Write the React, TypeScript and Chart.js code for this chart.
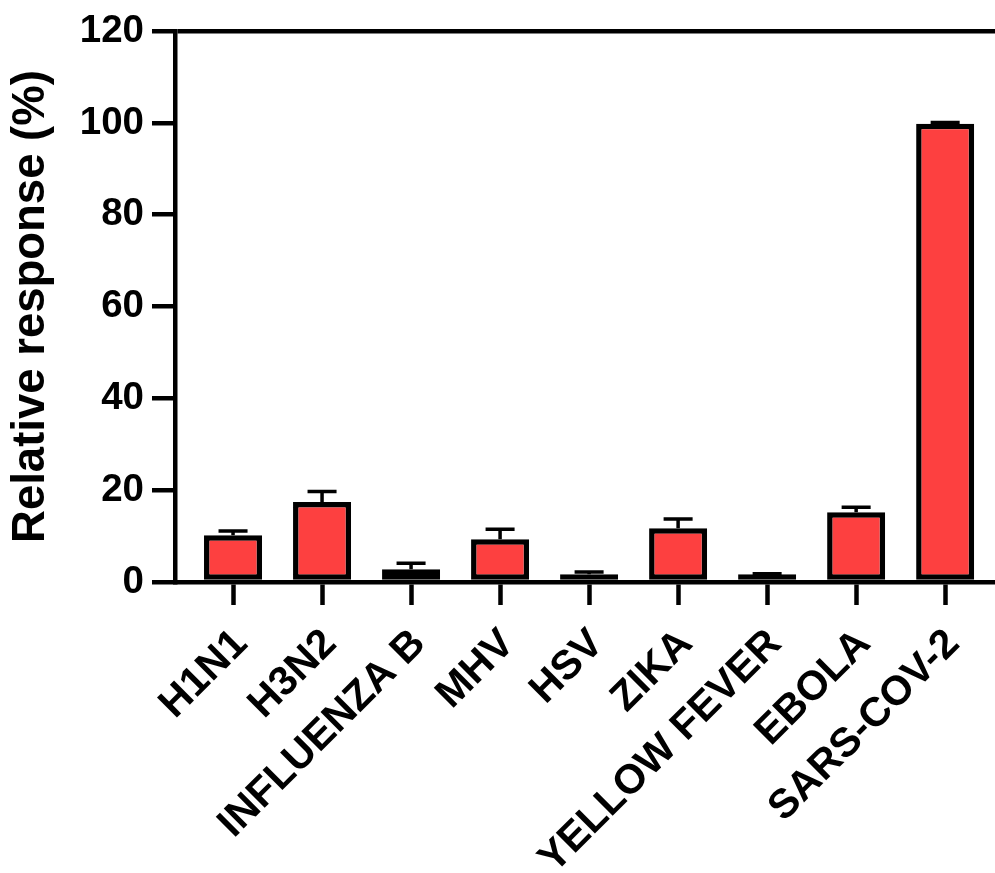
import React, { useEffect, useRef } from 'react';
import { Chart, registerables } from 'chart.js';

Chart.register(...registerables);

const categories = ['H1N1', 'H3N2', 'INFLUENZA B', 'MHV', 'HSV', 'ZIKA', 'YELLOW FEVER', 'EBOLA', 'SARS-COV-2'];
const responseMeans = [10.2, 17.4, 2.8, 9.3, 1.7, 11.7, 1.7, 15.2, 99.8];
const responseErrors = [0.9, 2.3, 1.3, 2.2, 0.5, 2.0, 0.1, 1.1, 0.3];
const yTicks = [0, 20, 40, 60, 80, 100, 120];
const yTitle = 'Relative response (%)';

const FONT = '"Liberation Sans", Arial, Helvetica, sans-serif';

const errorBarPlugin = {
  id: 'errorBars',
  afterDatasetsDraw(chart: any) {
    const meta = chart.getDatasetMeta(0);
    const y = chart.scales.y;
    const ctx = chart.ctx;
    ctx.save();
    ctx.strokeStyle = '#000';
    ctx.lineWidth = 3.5;
    ctx.lineCap = 'butt';
    meta.data.forEach((bar: any, i: number) => {
      const base = y.getPixelForValue(responseMeans[i]);
      const top = y.getPixelForValue(responseMeans[i] + responseErrors[i]);
      const half = bar.width * 0.25;
      ctx.beginPath();
      ctx.moveTo(bar.x, base);
      ctx.lineTo(bar.x, top);
      ctx.moveTo(bar.x - half, top);
      ctx.lineTo(bar.x + half, top);
      ctx.stroke();
    });
    ctx.restore();
  },
};

export default function App() {
  const canvasRef = useRef<HTMLCanvasElement | null>(null);

  useEffect(() => {
    document.body.style.margin = '0';
    const canvas = canvasRef.current;
    if (!canvas) return;
    const chart = new Chart(canvas, {
      type: 'bar',
      data: {
        datasets: [
          {
            data: responseMeans.map((v, i) => ({ x: i, y: v })),
            backgroundColor: '#FD4040',
            borderColor: '#000',
            borderWidth: 5.5,
            borderSkipped: false,
            barPercentage: 0.652,
            categoryPercentage: 1,
          },
        ],
      },
      options: {
        responsive: false,
        animation: false,
        layout: { padding: { top: 29, right: 0, left: 0, bottom: 0 } },
        plugins: {
          legend: { display: false },
          tooltip: { enabled: false },
        },
        scales: {
          x: {
            type: 'linear',
            offset: false,
            bounds: 'data',
            min: -0.652,
            max: 8.56,
            afterBuildTicks: (s: any) => {
              s.ticks = categories.map((_, i) => ({ value: i }));
            },
            afterFit: (s: any) => {
              s.height = 291;
            },
            border: { display: true, color: '#000', width: 4.5 },
            grid: {
              offset: false,
              drawOnChartArea: false,
              drawTicks: true,
              tickLength: 23,
              tickColor: '#000',
              tickWidth: 4.5,
            },
            ticks: {
              autoSkip: false,
              minRotation: 45,
              maxRotation: 45,
              color: '#000',
              padding: 15,
              labelOffset: 8,
              font: { family: FONT, size: 41, weight: 'bold' },
              callback: (v: any) => categories[v] ?? '',
            },
          },
          y: {
            min: 0,
            max: 120,
            afterBuildTicks: (s: any) => {
              s.ticks = yTicks.map((v) => ({ value: v }));
            },
            afterFit: (s: any) => {
              s.width = 175;
            },
            border: { display: true, color: '#000', width: 4.5 },
            grid: {
              color: (c: any) => (c.tick && c.tick.value === 120 ? '#000' : 'rgba(0,0,0,0)'),
              lineWidth: 4.5,
              drawTicks: true,
              tickLength: 23,
              tickColor: '#000',
              tickWidth: 4.5,
            },
            ticks: {
              color: '#000',
              padding: 8,
              font: { family: FONT, size: 38.5, weight: 'bold' },
            },
            title: {
              display: true,
              text: yTitle,
              color: '#000',
              font: { family: FONT, size: 45.5, weight: 'bold', lineHeight: 1 },
              padding: { top: 9, bottom: 0 },
            },
          },
        },
      },
      plugins: [errorBarPlugin],
    } as any);
    return () => chart.destroy();
  }, []);

  return (
    <div style={{ width: 995, height: 873 }}>
      <canvas ref={canvasRef} width={995} height={873} style={{ display: 'block' }} />
    </div>
  );
}
